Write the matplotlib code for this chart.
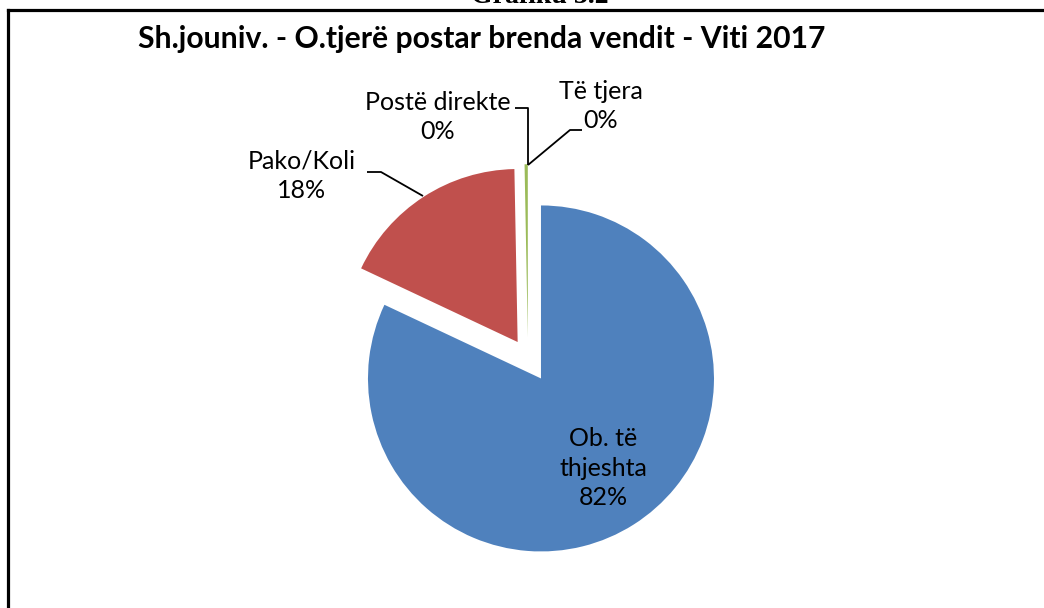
import matplotlib.pyplot as plt

categories = ['Ob. të\nthjeshta', 'Pako/Koli', 'Postë direkte', 'Të tjera']
values = [82.0, 17.7, 0.3, 0.0]
colors = ['#4F81BD', '#C0504D', '#9BBB59', '#8064A2']
title = 'Sh.jouniv. - O.tjerë postar brenda vendit - Viti 2017'

plt.rcParams['font.family'] = ['Lato', 'DejaVu Sans']

W, H, R = 1044, 608, 173.0
fig = plt.figure(figsize=(W / 100, H / 100), dpi=100)
ax = fig.add_axes([0, 0, 1, 1])
ax.set_xlim(0, W / R)
ax.set_ylim(0, H / R)
ax.set_aspect('equal')
ax.axis('off')

def P(x, y):
    # pixel position -> data units
    return x / R, (H - y) / R

cx, cy = P(528, 358)
ax.pie(values, colors=colors, startangle=90, counterclock=False,
       center=(cx, cy), radius=1.0, explode=[0.14, 0.11, 0.12, 0.12],
       wedgeprops=dict(linewidth=0), frame=False)
ax.set_xlim(0, W / R)
ax.set_ylim(0, H / R)

total = sum(values)
pct = ['%d%%' % round(v / total * 100) for v in values]

fs = 18
ls = 1.36
ax.text(*P(603, 468), categories[0] + '\n' + pct[0], ha='center', va='center',
        fontsize=fs, linespacing=ls)
ax.text(*P(302, 176), categories[1] + '\n' + pct[1], ha='center', va='center',
        fontsize=fs, linespacing=ls)
ax.text(*P(438, 117), categories[2] + '\n' + pct[2], ha='center', va='center',
        fontsize=fs, linespacing=ls)
ax.text(*P(601, 106), categories[3] + '\n' + pct[3], ha='center', va='center',
        fontsize=fs, linespacing=ls)

# leader lines
for pts in [[(367, 172), (381, 172), (423, 196)],
            [(515, 108), (528, 108), (528, 165)],
            [(528, 165), (570, 130), (582, 130)]]:
    xs, ys = zip(*[P(x, y) for x, y in pts])
    ax.plot(xs, ys, color='black', lw=1.3, solid_capstyle='butt')

ax.text(*P(482, 39), title, ha='center', va='center', fontsize=21.7,
        fontweight='bold')

# frame and cut-off caption above it
fig.add_artist(plt.Line2D([8 / W, 8 / W], [0, 1 - 10 / H], color='black',
                          lw=2.3, transform=fig.transFigure))
fig.add_artist(plt.Line2D([8 / W, 1], [1 - 10 / H, 1 - 10 / H], color='black',
                          lw=2.3, transform=fig.transFigure))
fig.text(540 / W, 1 - 3 / H, 'Grafiku 3.2', ha='center', va='baseline',
         fontsize=20, fontweight='bold', family='Liberation Serif')

fig.savefig('out.png', dpi=100)
